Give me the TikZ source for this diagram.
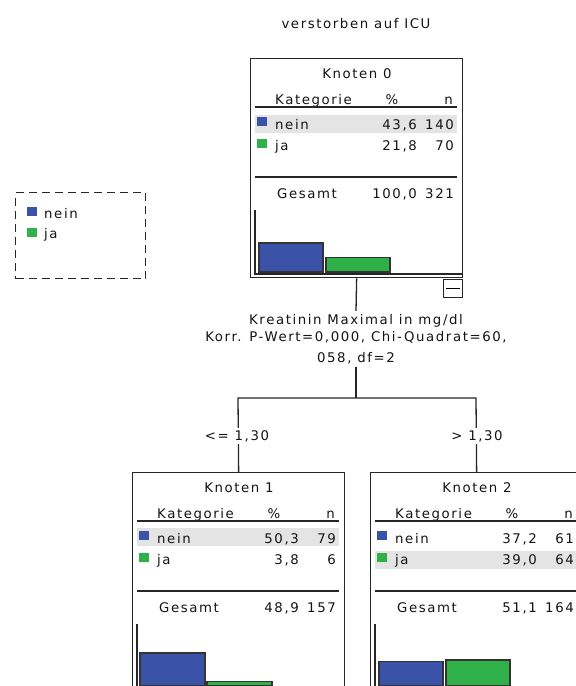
\documentclass[tikz,border=0pt]{standalone}
\usepackage{fontspec}
\newfontfamily\spss[LetterSpace=12]{DejaVu Sans}
\definecolor{nblue}{RGB}{58,82,168}
\definecolor{ngreen}{RGB}{48,176,72}
\definecolor{bandgray}{RGB}{228,228,228}
\tikzset{
  txt/.style={font=\spss\fontsize{13.3}{15}\selectfont, inner sep=0pt, text=black!92},
  rulel/.style={line width=1.3pt, draw=black!85},
  boxst/.style={draw=black!85, line width=1.3pt, minimum width=212pt, minimum height=219pt, inner sep=0pt},
  sq/.style={inner sep=0pt, minimum width=10pt, minimum height=9pt},
  barb/.style={draw=black!80, line width=1.2pt, fill=nblue},
  barg/.style={draw=black!80, line width=1.2pt, fill=ngreen},
  conn/.style={line width=1.3pt, draw=black!85},
  lbl/.style={txt, fill=white, inner sep=2pt},
}
% #1 prefix, #2 title, #3 nein %, #4 nein n, #5 ja %, #6 ja n, #7 ges %, #8 ges n, #9 band top
\newcommand\knotenbox[9]{%
  \node[boxst, anchor=north west] (#1) at (0,0) {};
  \fill[bandgray] (5,#9) rectangle (207,#9+18);
  \node[txt, anchor=base] (#1t) at (107,20) {#2};
  \node[txt, anchor=base west] (#1hk) at (25,46) {Kategorie};
  \node[txt, anchor=base] (#1hp) at (142,46) {\%};
  \node[txt, anchor=base east] (#1hn) at (203,46) {n};
  \draw[rulel] (5,49) -- (207,49);
  \node[sq, fill=nblue, anchor=north west] (#1sb) at (7,59) {};
  \node[txt, anchor=base west] (#1a) at (25,71) {nein};
  \node[txt, anchor=base east] (#1ap) at (167,71) {#3};
  \node[txt, anchor=base east] (#1an) at (204,71) {#4};
  \node[sq, fill=ngreen, anchor=north west] (#1sg) at (7,81) {};
  \node[txt, anchor=base west] (#1b) at (25,92) {ja};
  \node[txt, anchor=base east] (#1bp) at (167,92) {#5};
  \node[txt, anchor=base east] (#1bn) at (204,92) {#6};
  \draw[rulel] (5,119) -- (207,119);
  \node[txt, anchor=base west] (#1g) at (27,140) {Gesamt};
  \node[txt, anchor=base east] (#1gp) at (167,140) {#7};
  \node[txt, anchor=base east] (#1gn) at (204,140) {#8};
  \draw[rulel] (5,152) -- (5,216) -- (212,216);
}
\begin{document}
\begin{tikzpicture}[x=1pt, y=-1pt]
\useasboundingbox (0,0) rectangle (576,686);
\clip (0,0) rectangle (576,686);
\fill[white] (0,0) rectangle (576,686);

\node[txt, anchor=base] (title) at (356,28) {verstorben auf ICU};

% legend
\node[draw=black!85, line width=1.3pt, dash pattern=on 8pt off 5pt, minimum width=130pt, minimum height=86pt, anchor=north west, inner sep=0pt] (legend) at (15,192) {};
\node[sq, fill=nblue, anchor=north west] (lgb) at (27,207) {};
\node[txt, anchor=base west] (lgbt) at (44,218) {nein};
\node[sq, fill=ngreen, anchor=north west] (lgg) at (27,228) {};
\node[txt, anchor=base west] (lggt) at (44,238) {ja};

% Knoten 0
\begin{scope}[shift={(250,58)}]
  \knotenbox{k0}{Knoten 0}{43,6}{140}{21,8}{70}{100,0}{321}{57}
  \draw[barb] (9,214) rectangle (73,185);
  \draw[barg] (76,214) rectangle (140,199.5);
\end{scope}
\node[draw=black!85, line width=1.3pt, minimum width=19pt, minimum height=18pt, inner sep=0pt, anchor=north west] (k0m) at (443,279) {};
\draw[line width=1.3pt] ([xshift=3pt]k0m.west) -- ([xshift=-3pt]k0m.east);

% split label
\node[txt, align=center, inner sep=3pt, fill=white] (split) at (356,339)
  {Kreatinin Maximal in mg/dl\\[2pt]Korr. P-Wert=0,000, Chi-Quadrat=60,\\[6pt]058, df=2};

% Knoten 1
\begin{scope}[shift={(132,472)}]
  \knotenbox{k1}{Knoten 1}{50,3}{79}{3,8}{6}{48,9}{157}{56}
  \draw[barb] (8,214) rectangle (73,181);
  \draw[barg] (75,214) rectangle (140,209.5);
\end{scope}

% Knoten 2
\begin{scope}[shift={(370,472)}]
  \knotenbox{k2}{Knoten 2}{37,2}{61}{39,0}{64}{51,1}{164}{79}
  \draw[barb] (9,214) rectangle (73,189.5);
  \draw[barg] (76,214) rectangle (140,188);
\end{scope}

% connectors
\coordinate (hub) at (356,398);
\coordinate (hl) at (238,398);
\coordinate (hr) at (476,398);
\draw[conn] (k0.south) -- (split.north);
\draw[conn] (split.south) -- (hub);
\draw[conn] (k1.north) -- (hl) -- (hr) -- (k2.north);
\node[lbl] (c1) at (237,436) {<= 1,30};
\node[lbl] (c2) at (477,436) {> 1,30};
\end{tikzpicture}
\end{document}
